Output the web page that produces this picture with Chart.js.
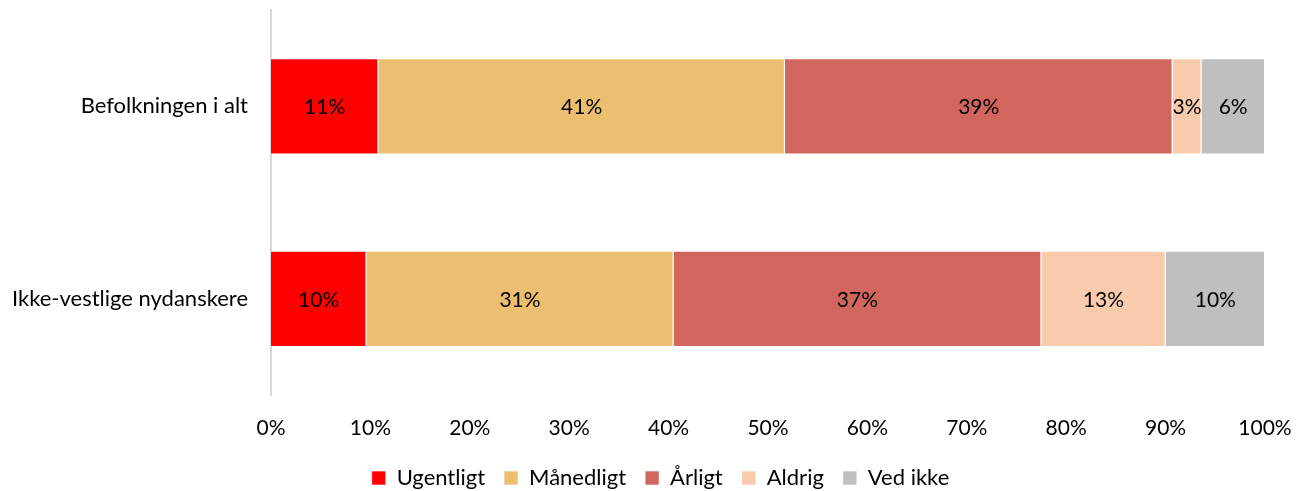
<!DOCTYPE html>
<html>
<head>
<meta charset="utf-8">
<script src="https://cdn.jsdelivr.net/npm/chart.js@4/dist/chart.umd.min.js"></script>
<style>
	html, body { margin: 0; padding: 0; background: #fff; }
	#wrap { width: 1305px; height: 491px; position: relative; }
</style>
</head>
<body>
<div id="wrap"><canvas id="chart" width="1305" height="491"></canvas></div>
<script>
const categories = ['Befolkningen i alt', 'Ikke-vestlige nydanskere'];
const seriesNames = ['Ugentligt', 'Månedligt', 'Årligt', 'Aldrig', 'Ved ikke'];
const ugentligt = [10.8, 9.6];
const maanedligt = [40.9, 30.9];
const aarligt = [39.0, 37.0];
const aldrig = [2.9, 12.5];
const vedIkke = [6.4, 10.0];

const COLORS = ['#FF0000', '#EBBF6F', '#D0665E', '#F7CBAC', '#BFBFBF'];
const FONT = 'Lato, Calibri, Carlito, sans-serif';

let values = [ugentligt, maanedligt, aarligt, aldrig, vedIkke];
let datasets = [];

values.forEach((data, index) => {
	datasets.push({
		label: seriesNames[index],
		data: data,
		backgroundColor: COLORS[index],
		borderColor: 'rgba(255,255,255,0.6)',
		borderWidth: 1,
		categoryPercentage: 0.5,
		barPercentage: 1
	});
});

//Подписи значений внутри сегментов
const valueLabels = {
	id: 'valueLabels',
	afterDatasetsDraw(chart) {
		let ctx = chart.ctx;
		ctx.save();
		ctx.font = '21px ' + FONT;
		ctx.fillStyle = '#000';
		ctx.textAlign = 'center';
		ctx.textBaseline = 'middle';
		chart.data.datasets.forEach((ds, i) => {
			chart.getDatasetMeta(i).data.forEach((bar, j) => {
				let x = (bar.x + bar.base) / 2;
				ctx.fillText(Math.round(ds.data[j]) + '%', x, bar.y + 1);
			});
		});
		ctx.restore();
	}
};

//Сдвиг легенды вправо, как в оригинале
const legendShift = {
	id: 'legendShift',
	afterLayout(chart) {
		if (chart.legend) {
			chart.legend.left += 23;
			chart.legend.right += 23;
		}
	}
};

new Chart(document.getElementById('chart'), {
	type: 'bar',
	data: {
		labels: categories,
		datasets: datasets
	},
	plugins: [valueLabels, legendShift],
	options: {
		indexAxis: 'y',
		responsive: false,
		animation: false,
		devicePixelRatio: 1,
		layout: { padding: { left: 10, right: 40, top: 10, bottom: -8 } },
		scales: {
			x: {
				stacked: true,
				min: 0,
				max: 100,
				grid: { display: false },
				border: { display: false },
				afterFit(scale) {
					scale.height = 53;
					scale.paddingLeft = 0;
					scale.paddingRight = 0;
				},
				ticks: {
					stepSize: 10,
					maxRotation: 0,
					padding: 13,
					color: '#000',
					font: { size: 21, family: FONT },
					callback: (v) => v + '%'
				}
			},
			y: {
				stacked: true,
				grid: { display: false },
				border: { display: true, color: '#D9D9D9', width: 2 },
				afterFit(scale) {
					scale.width = 261;
					scale.paddingTop = 0;
					scale.paddingBottom = 0;
				},
				ticks: {
					padding: 15,
					color: '#000',
					font: { size: 22, family: FONT }
				}
			}
		},
		plugins: {
			legend: {
				position: 'bottom',
				labels: {
					boxWidth: 14,
					boxHeight: 14,
					padding: 19,
					color: '#000',
					font: { size: 22, family: FONT }
				}
			},
			tooltip: { enabled: false }
		}
	}
});
</script>
</body>
</html>
